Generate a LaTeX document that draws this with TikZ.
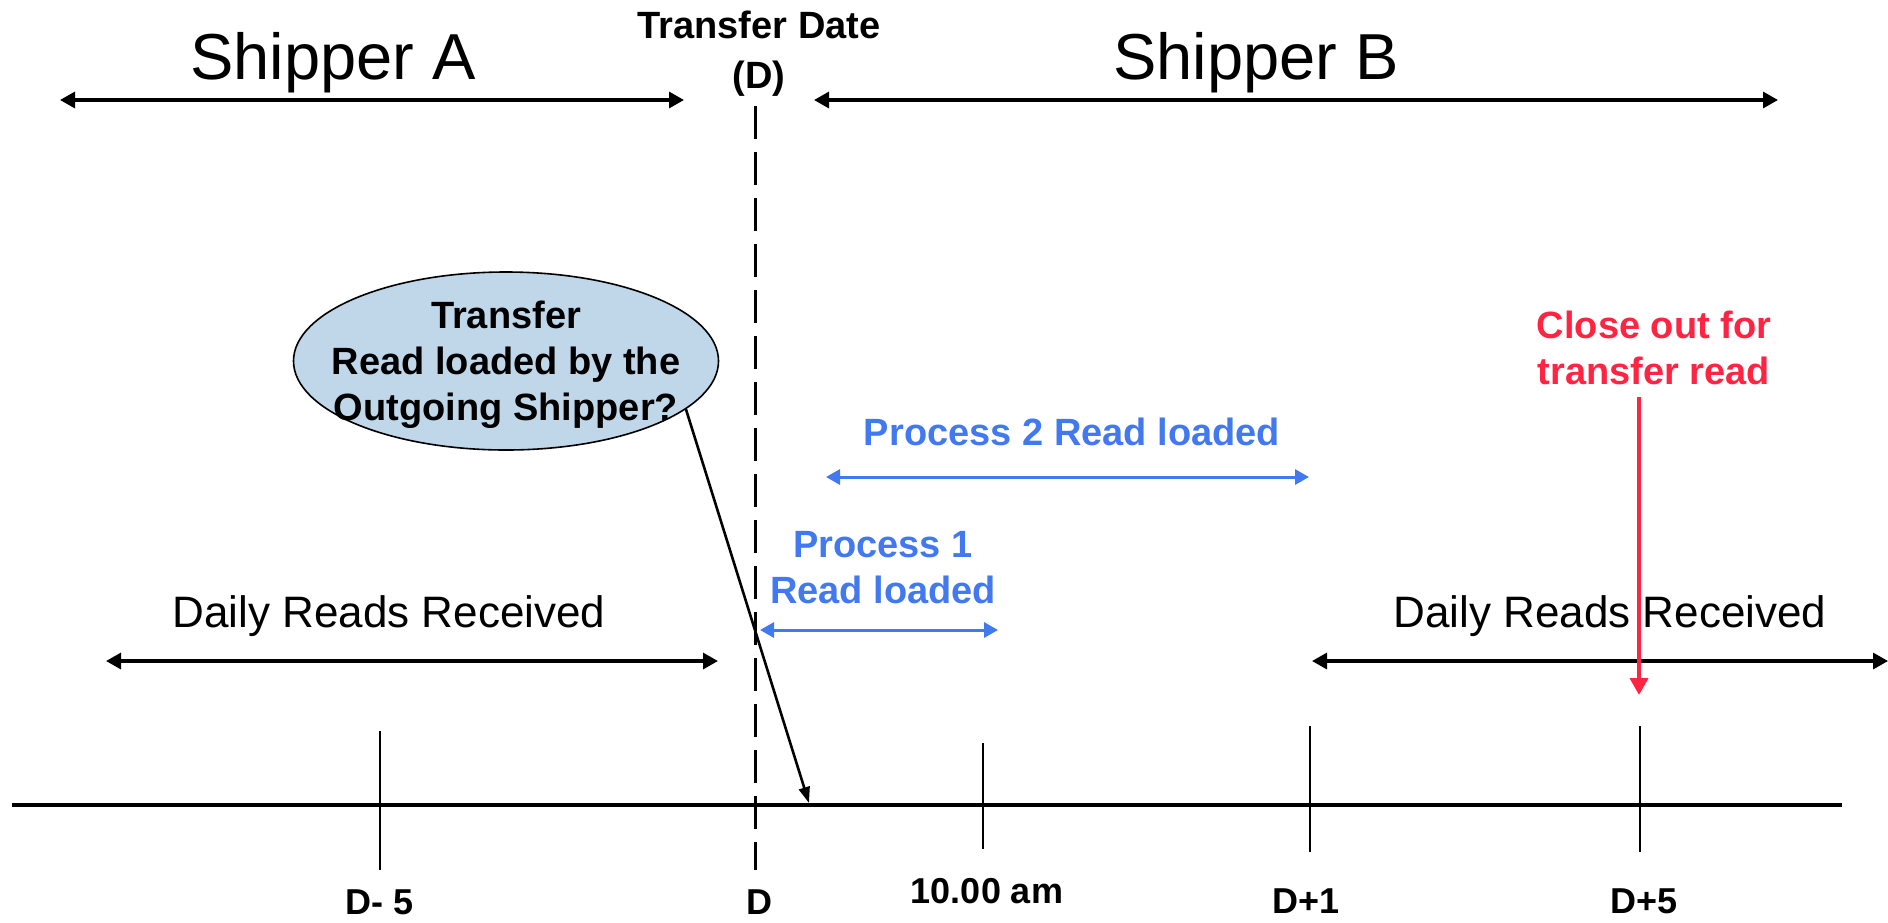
\documentclass[tikz,border=0pt]{standalone}
\usepackage{fontspec}
\setmainfont{Liberation Sans}
\usepackage{xcolor}
\usetikzlibrary{shapes}
\usetikzlibrary{arrows.meta}
\definecolor{procblue}{RGB}{66,121,240}
\definecolor{closered}{RGB}{255,36,66}
\definecolor{bubblefill}{RGB}{192,215,234}

\begin{document}
\begin{tikzpicture}[x=0.5pt,y=-0.5pt]
\tikzset{
  span/.style={line width=1.6pt,{Triangle[length=7.5pt,width=8pt]}-{Triangle[length=7.5pt,width=8pt]}},
  procspan/.style={procblue,line width=1.5pt,{Triangle[length=7pt,width=7.5pt]}-{Triangle[length=7pt,width=7.5pt]}},
  tickline/.style={line width=1pt},
  big/.style={font=\fontsize{32.5}{36}\selectfont},
  mid/.style={font=\fontsize{22}{26}\selectfont},
  lbl/.style={font=\fontsize{19}{23}\selectfont\bfseries,align=center,inner sep=0pt},
  daylbl/.style={font=\fontsize{18}{22}\selectfont\bfseries,inner sep=0pt}
}
\useasboundingbox (0,0) rectangle (1888,922);

% shippers
\node[big] (shipA) at (333,63) {Shipper A};
\node[big] (shipB) at (1256,63) {Shipper B};
\node[lbl,font=\fontsize{19}{25}\selectfont\bfseries] (tdate) at (759,54) {Transfer Date\\(D)};
\coordinate (aL) at (60,100);
\coordinate (aR) at (684,100);
\coordinate (bL) at (814,100);
\coordinate (bR) at (1778,100);
\draw[span] (aL) -- (aR);
\draw[span] (bL) -- (bR);

% time line
\coordinate (t0) at (12,805);
\coordinate (t1) at (1842,805);
\draw[line width=2pt] (t0) -- (t1);
\coordinate (dmTop) at (380,731);
\coordinate (dmBot) at (380,870);
\coordinate (dTop) at (755,106);
\coordinate (dBot) at (755,870);
\coordinate (amTop) at (983,743);
\coordinate (amBot) at (983,849);
\coordinate (d1Top) at (1310,726);
\coordinate (d1Bot) at (1310,852);
\coordinate (d5Top) at (1640,726);
\coordinate (d5Bot) at (1640,852);
\draw[tickline] (dmTop) -- (dmBot);
\draw[line width=1.5pt,dash pattern=on 16.5pt off 6.5pt] (dTop) -- (dBot);
\draw[tickline] (amTop) -- (amBot);
\draw[tickline] (d1Top) -- (d1Bot);
\draw[tickline] (d5Top) -- (d5Bot);
\node[daylbl] (dm5) at (380,902) {D- 5};
\node[daylbl] (d0) at (759,902) {D};
\node[daylbl] (am10) at (987,891) {10.00 am};
\node[daylbl] (dp1) at (1306,901) {D+1};
\node[daylbl] (dp5) at (1644,901) {D+5};

% question bubble
\node[ellipse,draw,line width=0.8pt,fill=bubblefill,minimum width=212.5pt,minimum height=89pt] (bubble) at (506,361) {};
\node[lbl] (bubbletext) at (506,365) {Transfer\\Read loaded by the\\Outgoing Shipper?};
\coordinate (hit) at (809,803);
\draw[line width=1.3pt,-{Triangle[length=8pt,width=5.5pt]}] (bubble.-15) -- (hit);

% processes
\node[lbl,procblue] (proc2) at (1072,432) {Process 2 Read loaded};
\coordinate (p2L) at (826,477);
\coordinate (p2R) at (1309,477);
\draw[procspan] (p2L) -- (p2R);
\node[lbl,procblue] (proc1) at (883,568) {Process 1\\Read loaded};
\coordinate (p1L) at (760,630);
\coordinate (p1R) at (998,630);
\draw[procspan] (p1L) -- (p1R);

% daily reads
\node[mid] (readsA) at (389,616) {Daily Reads Received};
\coordinate (rAL) at (106,661);
\coordinate (rAR) at (718,661);
\draw[span] (rAL) -- (rAR);
\node[mid] (readsB) at (1610,616) {Daily Reads Received};
\coordinate (rBL) at (1312,661);
\coordinate (rBR) at (1888,661);
\draw[span] (rBL) -- (rBR);

% close out
\node[lbl,closered] (close) at (1654,348) {Close out for\\transfer read};
\coordinate (rTop) at (1639,397);
\coordinate (rBot) at (1639,695);
\draw[closered,line width=2pt,-{Triangle[length=8.5pt,width=9pt]}] (rTop) -- (rBot);
\end{tikzpicture}
\end{document}
